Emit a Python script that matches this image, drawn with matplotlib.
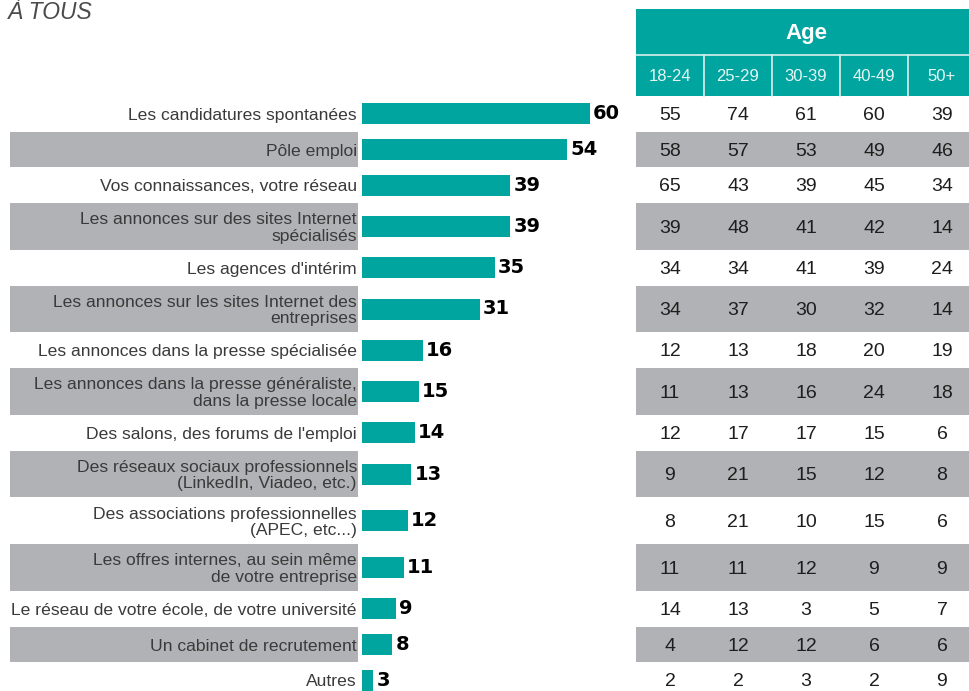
import matplotlib
matplotlib.use("Agg")
import matplotlib.pyplot as plt
from matplotlib.patches import Rectangle

# ---- data ---------------------------------------------------------------
categories = [
    "Les candidatures spontanées",
    "Pôle emploi",
    "Vos connaissances, votre réseau",
    "Les annonces sur des sites Internet\nspécialisés",
    "Les agences d'intérim",
    "Les annonces sur les sites Internet des\nentreprises",
    "Les annonces dans la presse spécialisée",
    "Les annonces dans la presse généraliste,\ndans la presse locale",
    "Des salons, des forums de l'emploi",
    "Des réseaux sociaux professionnels\n(LinkedIn, Viadeo, etc.)",
    "Des associations professionnelles\n(APEC, etc...)",
    "Les offres internes, au sein même\nde votre entreprise",
    "Le réseau de votre école, de votre université",
    "Un cabinet de recrutement",
    "Autres",
]
totals = [60, 54, 39, 39, 35, 31, 16, 15, 14, 13, 12, 11, 9, 8, 3]

age_groups = ["18-24", "25-29", "30-39", "40-49", "50+"]
age_18_24 = [55, 58, 65, 39, 34, 34, 12, 11, 12, 9, 8, 11, 14, 4, 2]
age_25_29 = [74, 57, 43, 48, 34, 37, 13, 13, 17, 21, 21, 11, 13, 12, 2]
age_30_39 = [61, 53, 39, 41, 41, 30, 18, 16, 17, 15, 10, 12, 3, 12, 3]
age_40_49 = [60, 49, 45, 42, 39, 32, 20, 24, 15, 12, 15, 9, 5, 6, 2]
age_50_plus = [39, 46, 34, 14, 24, 14, 19, 18, 6, 8, 6, 9, 7, 6, 9]
age_table = [age_18_24, age_25_29, age_30_39, age_40_49, age_50_plus]

title = "À TOUS"
header = "Age"

# ---- style --------------------------------------------------------------
TEAL = "#00a59f"
GRAY = "#b1b2b5"
LABEL_COLOR = "#3a3a3a"
FONT = ["Liberation Sans", "DejaVu Sans"]

W, H = 970, 691
TOP = 96            # first row starts below the header
ROW_1LINE = 35.7
ROW_2LINE = 46.8
BAR_X0 = 362        # bars start here (pixels)
PX_PER_UNIT = 3.8
BAR_H = 21
LABEL_BAND = (10, 358)
TABLE_X0 = 636
COL_W = 68

fig = plt.figure(figsize=(W / 100, H / 100), dpi=100)
ax = fig.add_axes([0, 0, 1, 1])
ax.set_xlim(0, W)
ax.set_ylim(H, 0)
ax.axis("off")

# row geometry from the number of label lines
tops, centers, heights = [], [], []
y = TOP
for lab in categories:
    h = ROW_2LINE if "\n" in lab else ROW_1LINE
    tops.append(y)
    heights.append(h)
    centers.append(y + h / 2)
    y += h

n_cols = len(age_groups)
table_x1 = TABLE_X0 + n_cols * COL_W
col_centers = [TABLE_X0 + COL_W * (i + 0.5) for i in range(n_cols)]

# alternating grey bands
for i, (t, h) in enumerate(zip(tops, heights)):
    if i % 2 == 1:
        ax.add_patch(Rectangle((LABEL_BAND[0], t), LABEL_BAND[1] - LABEL_BAND[0], h,
                               facecolor=GRAY, edgecolor="none"))
        ax.add_patch(Rectangle((TABLE_X0, t), table_x1 - TABLE_X0, h,
                               facecolor=GRAY, edgecolor="none"))

# category labels
for lab, c in zip(categories, centers):
    ax.text(LABEL_BAND[1] - 1, c + 1.5, lab, ha="right", va="center",
            multialignment="right", fontsize=12.6, color=LABEL_COLOR,
            family=FONT, linespacing=1.12)

# header of the age table
ax.add_patch(Rectangle((TABLE_X0, 9), table_x1 - TABLE_X0, 87,
                       facecolor=TEAL, edgecolor="none"))
ax.plot([TABLE_X0, table_x1], [54.5, 54.5], color="#d8efee", lw=1.2)
for k in range(1, n_cols):
    xk = TABLE_X0 + k * COL_W
    ax.plot([xk, xk], [54.5, 96], color="#d8efee", lw=1.2)
ax.text((TABLE_X0 + table_x1) / 2, 33, header, ha="center", va="center",
        fontsize=16, fontweight="bold", color="white", family=FONT)
for name, cx in zip(age_groups, col_centers):
    ax.text(cx, 76, name, ha="center", va="center", fontsize=12,
            color="#e6f6f5", family=FONT)

# table values
for col, cx in zip(age_table, col_centers):
    for v, c in zip(col, centers):
        ax.text(cx, c + 1.5, str(v), ha="center", va="center", fontsize=14,
                color="#1e1e1e", family=FONT)

# title
ax.text(8, 19, title, ha="left", va="baseline", fontsize=16.5,
        style="italic", color="#4a4a4a", family=FONT)

# bars on their own axes, in percentage units
bx = fig.add_axes([BAR_X0 / W, 0, (W - BAR_X0) / W, 1])
bx.set_xlim(0, (W - BAR_X0) / PX_PER_UNIT)
bx.set_ylim(H, 0)
bx.axis("off")
bx.patch.set_alpha(0)
bx.barh(centers, totals, height=BAR_H, color=TEAL, edgecolor="none")
for v, c in zip(totals, centers):
    bx.annotate(str(v), (v, c), xytext=(3, 0), textcoords="offset pixels",
                ha="left", va="center", fontsize=14, fontweight="bold",
                color="black", family=["DejaVu Sans"])

fig.savefig("out.png", dpi=100)
